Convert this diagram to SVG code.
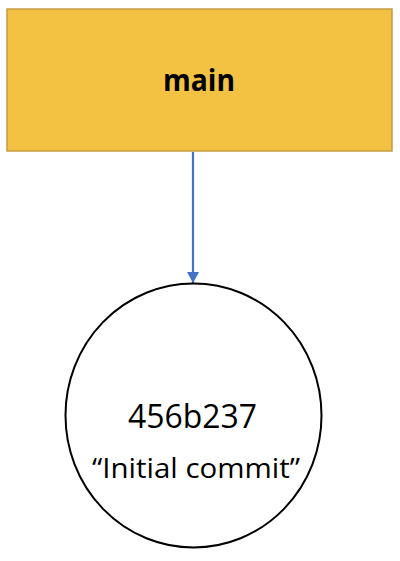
<svg xmlns="http://www.w3.org/2000/svg" width="400" height="561" viewBox="0 0 400 561">
<style>
.lbl{font-family:"Open Sans","Liberation Sans",sans-serif;fill:#000;text-anchor:middle}
</style>
<defs>
<marker id="ah" markerWidth="12" markerHeight="12" refX="11" refY="6" orient="auto" markerUnits="userSpaceOnUse">
<path d="M0,0 L11,6 L0,12 Z" fill="#4472C4"/>
</marker>
</defs>
<rect width="400" height="561" fill="#fff"/>
<g id="connectors">
<line x1="193" y1="152" x2="193" y2="283" stroke="#4472C4" stroke-width="2.2" marker-end="url(#ah)"/>
</g>
<g id="main">
<rect x="7" y="9" width="385" height="142" fill="#F4C242" stroke="#C39B40" stroke-width="1.5"/>
<text class="lbl" x="199" y="91" font-size="31" font-weight="bold" textLength="72" lengthAdjust="spacingAndGlyphs">main</text>
</g>
<g id="commit">
<ellipse cx="193.5" cy="415.5" rx="128" ry="132" fill="#fff" stroke="#000" stroke-width="2"/>
<text class="lbl" x="192.5" y="428" font-size="32" textLength="129" lengthAdjust="spacingAndGlyphs">456b237</text>
<text class="lbl" x="196" y="478" font-size="27" textLength="208" lengthAdjust="spacingAndGlyphs">“Initial commit”</text>
</g>
</svg>
